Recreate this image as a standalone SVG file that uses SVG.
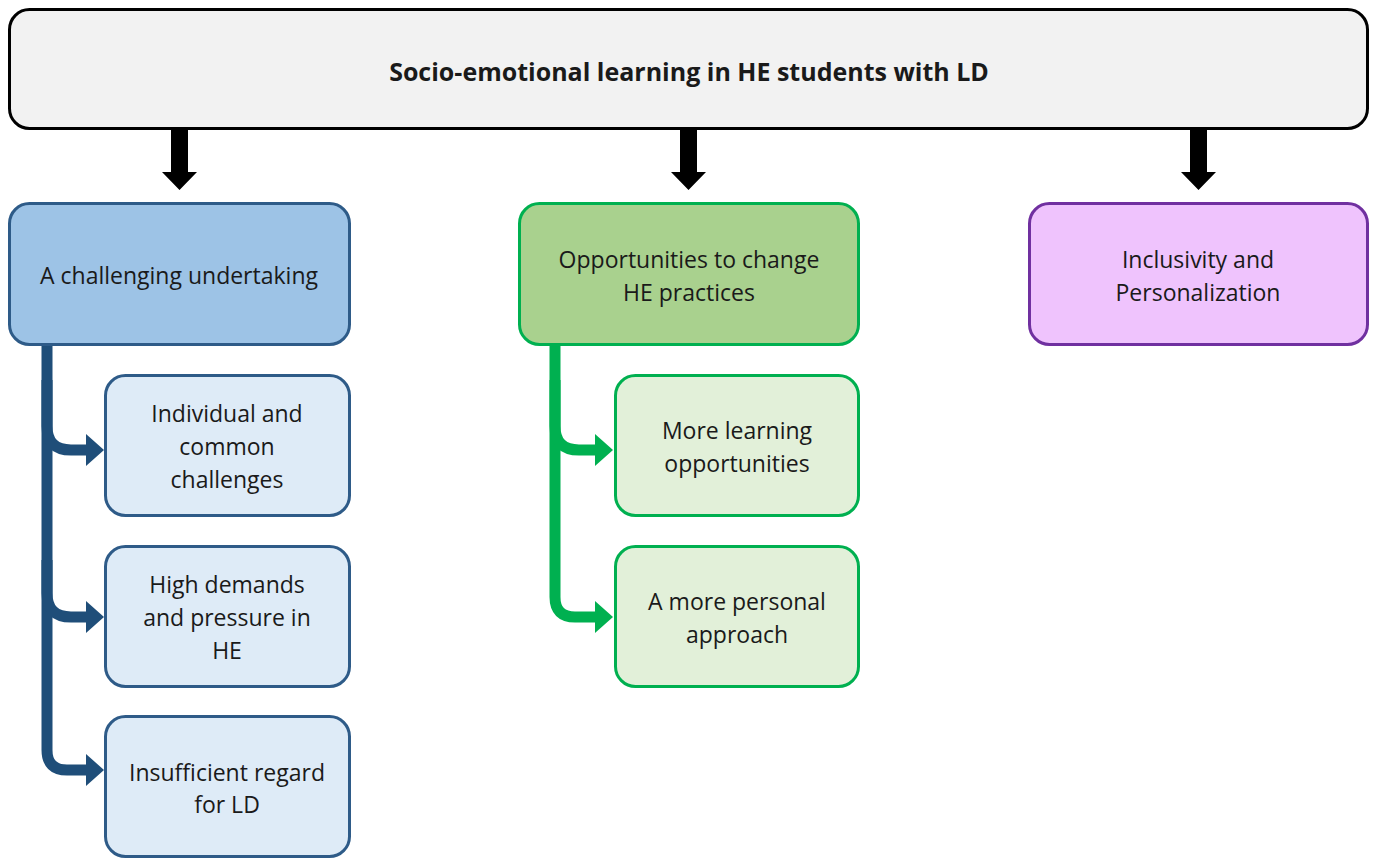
<svg xmlns="http://www.w3.org/2000/svg" width="1377" height="858" viewBox="0 0 1377 858">
<style>
text{font-family:"Open Sans","Liberation Sans",sans-serif;font-size:23px;fill:#1a1a1a;text-anchor:middle;dominant-baseline:central}
.title{font-weight:bold;font-size:25px}
.blue{fill:#9dc3e6;stroke:#2e5b88;stroke-width:3}
.lblue{fill:#deebf7;stroke:#2e5b88;stroke-width:3}
.green{fill:#a9d18e;stroke:#00b050;stroke-width:3}
.lgreen{fill:#e2f0d9;stroke:#00b050;stroke-width:3}
.purple{fill:#efc3fd;stroke:#7030a0;stroke-width:3}
.bl{fill:none;stroke:#1f4e79;stroke-width:11}
.gl{fill:none;stroke:#00b050;stroke-width:11}
</style>
<rect width="1377" height="858" fill="#fff"/>
<g id="connectors">
<polygon points="171,125 188,125 188,172 197,172 179.5,190 162,172 171,172" fill="#000"/>
<polygon points="680,125 697,125 697,172 706,172 688.5,190 671,172 680,172" fill="#000"/>
<polygon points="1190,125 1207,125 1207,172 1216,172 1198.5,190 1181,172 1190,172" fill="#000"/>
<path class="bl" d="M47,344 L47,750 Q47,770 67,770 L88,770"/>
<path class="bl" d="M47,380 L47,426 Q47,450 71,450 L88,450"/>
<path class="bl" d="M47,560 L47,593 Q47,617 71,617 L88,617"/>
<polygon points="86,434 104,450 86,466" fill="#1f4e79"/>
<polygon points="86,601 104,617 86,633" fill="#1f4e79"/>
<polygon points="86,754 104,770 86,786" fill="#1f4e79"/>
<path class="gl" d="M555,344 L555,597 Q555,617 575,617 L597,617"/>
<path class="gl" d="M555,380 L555,426 Q555,450 579,450 L597,450"/>
<polygon points="595,434 613,450 595,466" fill="#00b050"/>
<polygon points="595,601 613,617 595,633" fill="#00b050"/>
</g>
<g id="root">
<rect x="9.5" y="9.5" width="1358" height="119" rx="20" fill="#f2f2f2" stroke="#000" stroke-width="3"/>
<text class="title" x="689" y="71">Socio-emotional learning in HE students with LD</text>
</g>
<g id="challenging">
<rect class="blue" x="9.5" y="203.5" width="340" height="141" rx="20"/>
<text x="179" y="275">A challenging undertaking</text>
</g>
<g id="individual">
<rect class="lblue" x="105.5" y="375.5" width="244" height="140" rx="20"/>
<text x="227" y="413">Individual and</text>
<text x="227" y="446">common</text>
<text x="227" y="479">challenges</text>
</g>
<g id="high">
<rect class="lblue" x="105.5" y="546.5" width="244" height="140" rx="20"/>
<text x="227" y="584">High demands</text>
<text x="227" y="617">and pressure in</text>
<text x="227" y="650">HE</text>
</g>
<g id="insufficient">
<rect class="lblue" x="105.5" y="716.5" width="244" height="140" rx="20"/>
<text x="227" y="772">Insufficient regard</text>
<text x="227" y="804">for LD</text>
</g>
<g id="opportunities">
<rect class="green" x="519.5" y="203.5" width="339" height="141" rx="20"/>
<text x="689" y="259">Opportunities to change</text>
<text x="689" y="292">HE practices</text>
</g>
<g id="more-learning">
<rect class="lgreen" x="615.5" y="375.5" width="243" height="140" rx="20"/>
<text x="737" y="430">More learning</text>
<text x="737" y="463">opportunities</text>
</g>
<g id="personal">
<rect class="lgreen" x="615.5" y="546.5" width="243" height="140" rx="20"/>
<text x="737" y="601">A more personal</text>
<text x="737" y="634">approach</text>
</g>
<g id="inclusivity">
<rect class="purple" x="1029.5" y="203.5" width="338" height="141" rx="20"/>
<text x="1198" y="259">Inclusivity and</text>
<text x="1198" y="292">Personalization</text>
</g>
</svg>
